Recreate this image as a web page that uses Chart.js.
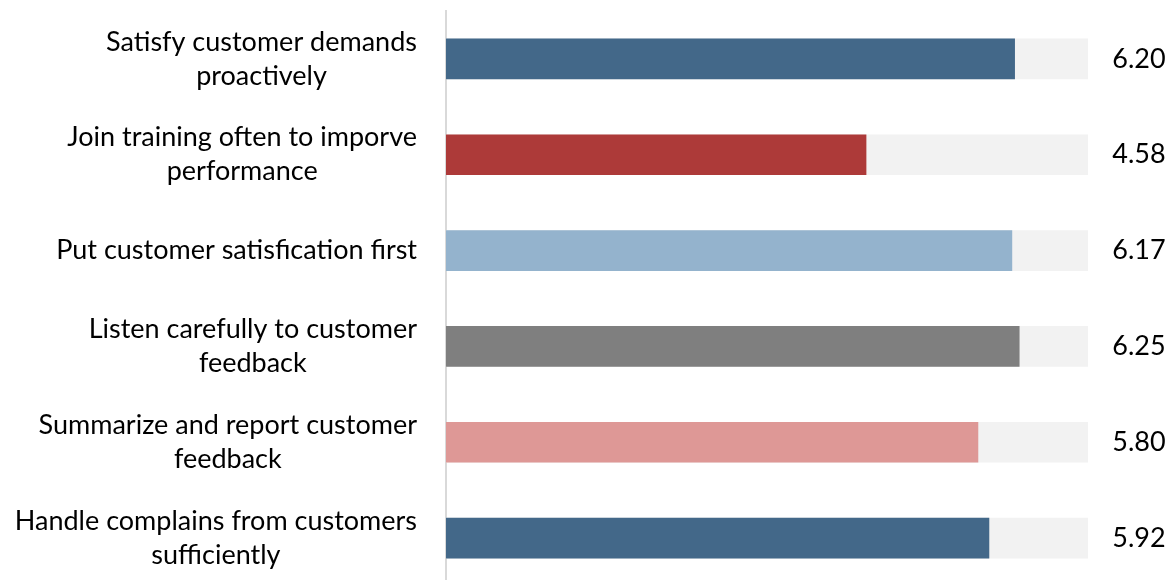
<!DOCTYPE html>
<html>
<head>
<meta charset="utf-8">
<script src="https://cdn.jsdelivr.net/npm/chart.js@4/dist/chart.umd.min.js"></script>
<style>
  html, body { margin: 0; padding: 0; background: #fff; overflow: hidden; }
  #wrap { width: 1170px; height: 586px; position: relative; }
</style>
</head>
<body>
<div id="wrap"><canvas id="scoreChart"></canvas></div>
<script>
// categories, each split into the lines it is shown on
const categories = [
    ['Satisfy customer demands', 'proactively'],
    ['Join training often to imporve', 'performance'],
    ['Put customer satisfication first'],
    ['Listen carefully to customer', 'feedback'],
    ['Summarize and report customer', 'feedback'],
    ['Handle complains from customers', 'sufficiently']
];
const scores = [6.20, 4.58, 6.17, 6.25, 5.80, 5.92];
const scaleMax = [7, 7, 7, 7, 7, 7];
const barColors = ['#436889', '#ad3a39', '#94b3cd', '#7f7f7f', '#de9896', '#436889'];

const FONT = '27px Lato, "Open Sans", sans-serif';

// labels on the left (each block centred on its own widest line) and values on the right
const textPlugin = {
    id: 'textPlugin',
    afterDraw(chart) {
        const c = chart.ctx;
        const y = chart.scales.y;
        c.save();
        c.font = FONT;
        c.fillStyle = '#000';
        c.textBaseline = 'middle';
        c.textAlign = 'center';
        const lineH = 34;
        categories.forEach((lines, i) => {
            const cy = y.getPixelForValue(i);
            const widest = Math.max(...lines.map(l => c.measureText(l).width));
            const cx = 417 - widest / 2;
            const top = cy - (lines.length - 1) * lineH / 2;
            lines.forEach((l, j) => c.fillText(l, cx, top + j * lineH));
        });
        scores.forEach((v, i) => {
            c.fillText(v.toFixed(2), 1139, y.getPixelForValue(i));
        });
        c.restore();
    }
};

const ctx = document.getElementById('scoreChart');
new Chart(ctx.getContext('2d'), {
    type: 'bar',
    data: {
        labels: categories,
        datasets: [{
            label: 'Score',
            data: scores,
            backgroundColor: barColors,
            barThickness: 40,
            grouped: false,
            order: 0
        }, {
            label: 'Scale',
            data: scaleMax,
            backgroundColor: '#f2f2f2',
            barThickness: 40,
            grouped: false,
            order: 1
        }]
    },
    options: {
        indexAxis: 'y',
        responsive: true,
        maintainAspectRatio: false,
        animation: false,
        layout: {
            padding: { top: 11, right: 82, bottom: 0, left: 0 }
        },
        plugins: {
            legend: { display: false },
            tooltip: { enabled: false }
        },
        scales: {
            x: {
                display: false,
                min: 0,
                max: 7
            },
            y: {
                afterFit: (s) => { s.width = 446; },
                grid: { display: false },
                ticks: { display: false },
                border: { display: true, color: '#d9d9d9', width: 2 }
            }
        }
    },
    plugins: [textPlugin]
});
</script>
</body>
</html>
